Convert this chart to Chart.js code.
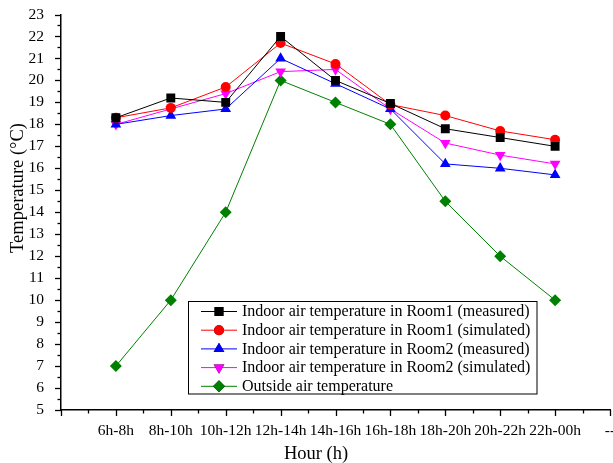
<!DOCTYPE html>
<html>
<head>
<meta charset="utf-8">
<script src="https://cdn.jsdelivr.net/npm/chart.js@4/dist/chart.umd.min.js"></script>
<style>
    html, body { margin: 0; padding: 0; background: #fff; overflow: hidden; }
    #wrap { width: 640px; height: 463px; }
</style>
</head>
<body>
<div id="wrap"><canvas id="chart"></canvas></div>
<script>
// ===============================
// Data
// ===============================
const hours = ["6h-8h", "8h-10h", "10h-12h", "12h-14h", "14h-16h", "16h-18h", "18h-20h", "20h-22h", "22h-00h"];
const room1Measured  = [18.3, 19.2, 19.0, 22.0, 20.0, 18.95, 17.8, 17.4, 17.0];
const room1Simulated = [18.3, 18.75, 19.7, 21.7, 20.75, 18.9, 18.4, 17.7, 17.3];
const room2Measured  = [18.0, 18.4, 18.7, 21.0, 19.85, 18.7, 16.2, 16.0, 15.7];
const room2Simulated = [18.0, 18.7, 19.4, 20.4, 20.5, 18.7, 17.15, 16.6, 16.2];
const outsideTemp    = [7, 10, 14, 20, 19, 18, 14.5, 12, 10];

const yTicks = { min: 5, max: 23, step: 1 };

// empty slot before first and after last category, like the original axis
const labels = [""].concat(hours, ["--"]);
const pad = arr => [null].concat(arr, [null]);

const FONT = "'Liberation Serif', 'Times New Roman', serif";

function series(label, data, color, style, radius, rotation) {
    return {
        label,
        data: pad(data),
        borderColor: color,
        backgroundColor: color,
        borderWidth: 1,
        pointStyle: style,
        pointRadius: radius,
        pointRotation: rotation || 0,
        pointBorderWidth: 0,
        tension: 0
    };
}

const datasets = [
    series("Indoor air temperature in Room1 (measured)", room1Measured, "#000000", "rect", 6.3),
    series("Indoor air temperature in Room1 (simulated)", room1Simulated, "#ff0000", "circle", 5),
    series("Indoor air temperature in Room2 (measured)", room2Measured, "#0000ff", "triangle", 6.2),
    series("Indoor air temperature in Room2 (simulated)", room2Simulated, "#ff00ff", "triangle", 6.2, 180),
    series("Outside air temperature", outsideTemp, "#008000", "rectRot", 6)
];

// ===============================
// Major / minor ticks, axis titles, legend box
// ===============================
const decorPlugin = {
    id: "decor",
    afterDraw(chart) {
        const ctx = chart.ctx;
        const x = chart.scales.x;
        const y = chart.scales.y;
        const left = chart.chartArea.left;
        const bottom = chart.chartArea.bottom;

        ctx.save();
        ctx.strokeStyle = "#000";
        ctx.lineWidth = 1.3;

        // y ticks
        for (let v = yTicks.min; v <= yTicks.max + 1e-9; v += 0.5) {
            const py = Math.round(y.getPixelForValue(v)) + 0.5;
            const len = Number.isInteger(v) ? 6 : 3.5;
            ctx.beginPath();
            ctx.moveTo(left - len, py);
            ctx.lineTo(left, py);
            ctx.stroke();
        }
        // x ticks
        for (let i = 0; i <= labels.length - 1 + 1e-9; i += 0.5) {
            const px = Math.round(x.getPixelForValue(i)) + 0.5;
            const len = Number.isInteger(i) ? 6 : 3.5;
            ctx.beginPath();
            ctx.moveTo(px, bottom);
            ctx.lineTo(px, bottom + len);
            ctx.stroke();
        }

        // axis titles
        ctx.fillStyle = "#000";
        ctx.font = "18.5px " + FONT;
        ctx.textAlign = "center";
        ctx.textBaseline = "middle";
        ctx.fillText("Hour (h)", 316, 454);
        ctx.save();
        ctx.translate(18, 188);
        ctx.rotate(-Math.PI / 2);
        ctx.fillText("Temperature (\u00B0C)", 0, 0);
        ctx.restore();

        // legend
        const box = { x: 188.5, y: 301.5, w: 348.5, h: 92.5 };
        ctx.lineWidth = 1;
        ctx.strokeStyle = "#000";
        ctx.strokeRect(box.x, box.y, box.w, box.h);
        ctx.font = "16px " + FONT;
        ctx.textAlign = "left";
        chart.data.datasets.forEach((ds, i) => {
            const ry = 311.5 + i * 18.7;
            ctx.strokeStyle = ds.borderColor;
            ctx.beginPath();
            ctx.moveTo(201, ry);
            ctx.lineTo(237, ry);
            ctx.stroke();
            Chart.helpers.drawPoint(ctx, {
                pointStyle: ds.pointStyle,
                radius: ds.pointRadius,
                rotation: ds.pointRotation,
                borderWidth: 0
            }, 219, ry);
            ctx.fillStyle = ds.backgroundColor;
            ctx.fill();
            ctx.fillStyle = "#000";
            ctx.fillText(ds.label, 242, ry + 0.5);
        });
        ctx.restore();
    }
};

new Chart(document.getElementById("chart"), {
    type: "line",
    data: { labels, datasets },
    plugins: [decorPlugin],
    options: {
        responsive: true,
        maintainAspectRatio: false,
        animation: false,
        layout: { padding: { left: 0, top: 14.5, right: 30, bottom: 0 } },
        plugins: {
            legend: { display: false },
            tooltip: { enabled: false }
        },
        scales: {
            x: {
                type: "category",
                offset: false,
                grid: { display: false },
                border: { display: true, color: "#000", width: 1.5 },
                ticks: {
                    color: "#000",
                    font: { family: FONT, size: 15.5 },
                    padding: 4,
                    maxRotation: 0,
                    autoSkip: false
                },
                afterFit(scale) { scale.height = 53; }
            },
            y: {
                min: yTicks.min,
                max: yTicks.max,
                grid: { display: false },
                border: { display: true, color: "#000", width: 1.5 },
                ticks: {
                    stepSize: yTicks.step,
                    color: "#000",
                    font: { family: FONT, size: 15.5 },
                    padding: 9
                },
                afterFit(scale) {
                    scale.width = 61;
                    scale.paddingTop = 0;
                    scale.paddingBottom = 0;
                }
            }
        }
    }
});
</script>
</body>
</html>
